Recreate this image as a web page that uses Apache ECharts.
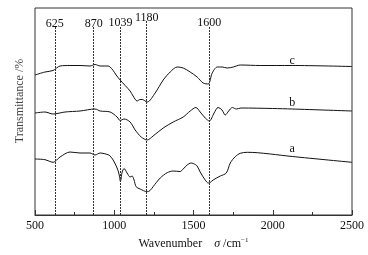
<!DOCTYPE html>
<html><head><meta charset="utf-8">
<script src="https://cdn.jsdelivr.net/npm/echarts@6/dist/echarts.min.js"></script>
<style>html,body{margin:0;padding:0;background:#fff}#c{width:368px;height:255px}</style>
</head><body><div id="c"></div>
<script>
// Wavenumbers (cm^-1) and transmittance (arbitrary units)
const curveC = [[500,140],[563,143],[614,144.5],[658,149],[721,149.5],[784,149.5],[847,149],[879,150.5],[911,149],[961,149],[974,148],[993,144.5],[1012,140],[1037,135],[1069,129.5],[1100,124],[1119,119],[1144,114],[1163,115.5],[1176,115.5],[1208,113],[1258,122],[1309,135],[1353,143],[1397,148],[1435,147],[1479,143],[1523,138],[1561,132],[1593,131],[1618,142],[1650,148],[1681,148],[1713,147],[1751,148],[1795,150],[1921,149.5],[2123,149.5],[2500,148.5]];
const curveB = [[500,102],[563,103],[614,101],[690,103],[784,104],[879,106],[911,104],[974,103],[1018,98],[1037,94.5],[1062,96],[1100,93],[1132,85],[1170,78],[1208,75],[1245,79],[1309,87],[1372,93],[1435,98],[1479,104],[1515,107.5],[1542,103],[1574,97],[1600,94],[1630,102],[1655,107.5],[1680,105],[1700,100],[1722,104],[1745,107.5],[1770,106],[1800,107],[2000,106.5],[2123,106],[2500,104]];
const curveA = [[500,56],[563,55.3],[614,52.7],[658,58],[721,63],[784,62],[847,62],[879,60],[911,62],[961,60.3],[974,59],[993,55],[1018,47],[1030,41],[1039,33.5],[1050,43],[1062,46.5],[1081,42],[1100,38],[1113,39],[1125,35],[1138,28.3],[1163,26],[1208,23.3],[1226,24.5],[1245,28.3],[1290,37],[1334,42.3],[1372,44],[1416,43.5],[1435,46],[1460,50],[1485,52],[1511,50.5],[1523,49],[1542,43],[1574,35],[1593,32],[1605,32.5],[1624,35],[1669,39],[1707,42],[1732,52],[1763,58.3],[1795,61.7],[1839,62.7],[1902,62.3],[1985,61],[2123,58.5],[2500,52.7]];
const markerPos = [625, 870, 1039, 1205, 1600];
const markerLabels = ['625', '870', '1039', '1180', '1600'];
const markerTop = [188, 188, 189, 194, 189];
const xTicks = [500, 1000, 1500, 2000, 2500];
const curveNames = ['a', 'b', 'c'];
const curveLabelPos = [[2123, 66], [2123, 112], [2123, 154]];

const serif = 'Liberation Serif';
const chart = echarts.init(document.getElementById('c'), null, {renderer: 'canvas'});
const markLines = markerPos.map((x, i) => [
  {coord: [x, 0], name: markerLabels[i]},
  {coord: [x, markerTop[i]]}
]);
function curveSeries(data, idx, extra) {
  return Object.assign({
    type: 'line', data: data, symbol: 'none', smooth: 0.3,
    lineStyle: {color: '#111', width: 1}, silent: true,
    markPoint: {
      symbol: 'circle', symbolSize: 0, silent: true,
      data: [{coord: curveLabelPos[idx], name: curveNames[idx]}],
      label: {show: true, position: 'inside', formatter: '{b}', color: '#111', fontFamily: serif, fontSize: 12}
    }
  }, extra || {});
}
chart.setOption({
  animation: false,
  grid: {left: 35, right: 16, top: 8, bottom: 40, show: true, borderColor: '#333', borderWidth: 1},
  xAxis: {
    type: 'value', min: xTicks[0], max: xTicks[xTicks.length - 1], interval: 500,
    axisLine: {lineStyle: {color: '#333'}},
    axisTick: {inside: true, length: 5, lineStyle: {color: '#333'}},
    minorTick: {show: true, splitNumber: 2, length: 3, lineStyle: {color: '#333'}},
    splitLine: {show: false},
    axisLabel: {color: '#111', fontFamily: serif, fontSize: 12, margin: 5, formatter: v => String(v)},
    name: '{n|Wavenumber}{s|    }{g|σ}{n| /cm}{p|−1}',
    nameLocation: 'middle', nameGap: 22,
    nameTextStyle: {
      rich: {
        n: {fontFamily: serif, fontSize: 12, color: '#111'},
        s: {fontFamily: serif, fontSize: 12},
        g: {fontFamily: serif, fontSize: 12, fontStyle: 'italic', color: '#111'},
        p: {fontFamily: serif, fontSize: 7, color: '#111', verticalAlign: 'top', padding: [0, 0, 6, 0]}
      }
    }
  },
  yAxis: {
    type: 'value', min: 0, max: 207,
    axisLine: {show: false}, axisTick: {show: false}, axisLabel: {show: false}, splitLine: {show: false}
  },
  graphic: [{
    type: 'text', x: 20, y: 101, rotation: Math.PI / 2,
    style: {text: 'Transmittance /%', fill: '#444', font: '12px "Liberation Serif"', textAlign: 'center', textVerticalAlign: 'middle'}
  }],
  series: [
    curveSeries(curveA, 0, {
      markLine: {
        symbol: 'none', silent: true,
        lineStyle: {color: '#333', width: 1, type: [2, 1]},
        label: {show: true, position: 'end', formatter: '{b}', color: '#111', fontFamily: serif, fontSize: 12, distance: -3},
        data: markLines
      }
    }),
    curveSeries(curveB, 1),
    curveSeries(curveC, 2)
  ]
});
</script></body></html>
